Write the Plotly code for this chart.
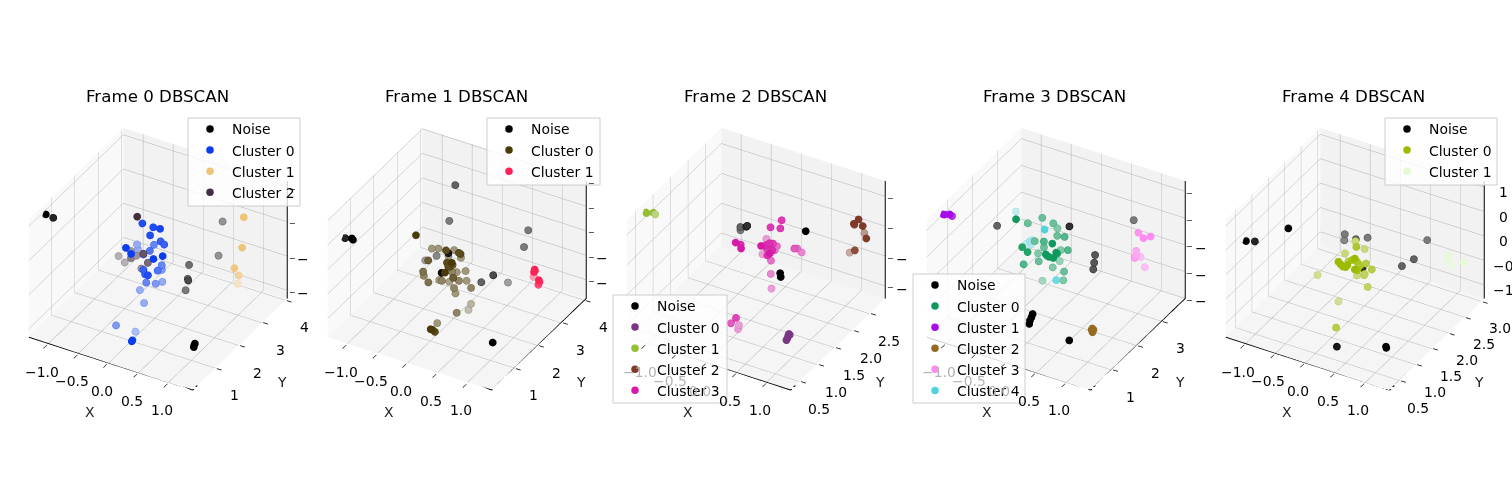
import plotly.graph_objects as go

W, H = 1512, 500
TITLES = ["Frame 0 DBSCAN", "Frame 1 DBSCAN", "Frame 2 DBSCAN", "Frame 3 DBSCAN", "Frame 4 DBSCAN"]
X_RANGE = [-1.33, 1.40]
Y_RANGES = [[0.03, 4.08], [0.03, 4.08], [0.25, 2.95], [0.17, 3.94], [0.2, 3.09]]
Z_RANGES = [[-1.12, 0.6], [-1.38, 1.02], [-1.21, 0.76], [-1.5, 0.7], [-1.28, 1.13]]
X_TICKS = [-1, -0.5, 0, 0.5, 1]
X_LABELS = ["−1.0", "−0.5", "0.0", "0.5", "1.0"]
Y_TICKS = [[1, 2, 3, 4], [1, 2, 3, 4], [0.5, 1, 1.5, 2, 2.5], [1, 2, 3], [0.5, 1, 1.5, 2, 2.5, 3]]
Y_LABELS = [["1", "2", "3", "4"], ["1", "2", "3", "4"], ["0.5", "1.0", "1.5", "2.0", "2.5"], ["1", "2", "3"], ["0.5", "1.0", "1.5", "2.0", "2.5", "3.0"]]
Z_TICKS = [[-1, -0.5, 0, 0.5], [-1, -0.5, 0, 0.5, 1], [-1, -0.5, 0, 0.5], [-1.5, -1, -0.5, 0, 0.5], [-1, -0.5, 0, 0.5, 1]]
# only what the neighbouring panel and the page edge leave visible in the reference
Z_LABELS = [["−", "−", "", ""], ["−", "−", "", "", ""], ["−", "−", "", ""], ["−", "−", "−", "", ""], ["−1", "−0", "0", "0", "1"]]
LEGEND_BOX = [(188, 118, 300, 206), (487, 118, 600, 185), (613, 295, 727, 403), (913, 274, 1025, 403), (1385, 118, 1497, 185)]

# Frame 0
F0_NOISE_X = [-1.30, -1.27, 1.0, 1.02, 0.99, 0.39, 0.43, 0.52, 0.375, 0.40, 0.41]
F0_NOISE_Y = [0.68, 0.92, 1.12, 1.1, 1.13, 2.47, 2.31, 2.10, 2.36, 3.88, 3.68]
F0_NOISE_Z = [0.47, 0.35, -0.94, -0.9, -0.97, -0.38, -0.52, -0.45, -0.72, -0.21, -0.64]
F0_NOISE_A = [1, .85, 1, 1, 1, .55, .55, .7, .5, .4, .4]
F0_C0_X = [-.26, -.11, .005, -.115, -.03, .03, -.21, -.56, -.30, -.21, -.53, -.235, -.17, .195, .09, -.03, -.08, .01, -.125, -.09, .02, -.09, -.10, -.155, -.34, -.235, -.35, -.01, .07, .065]
F0_C0_Y = [2.14, 2.22, 2.22, 2.10, 2.33, 2.33, 2.51, 2.68, 1.54, 1.53, 2.64, 2.12, 2.23, 1.84, 1.715, 2.38, 2.51, 2.10, 1.84, 1.82, 1.66, 2.56, 2.30, 2.035, 2.24, 2.15, 1.245, 1.2, .84, .88]
F0_C0_Z = [.15, .11, .12, .03, -.11, -.14, -.27, -.42, -.02, -.08, -.47, -.29, -.255, -.10, -.13, -.475, -.60, -.45, -.39, -.44, -.37, -.795, -.74, -.65, -.88, -1.01, -1.07, -1.05, -1.05, -1.05]
F0_C0_A = [.9, .9, .95, .9, .8, .8, .6, .4, 1, 1, .4, .7, .7, 1, 1, .6, .5, .7, .8, .8, .9, .4, .5, .6, .4, .4, .5, .3, 1, .9]
F0_C1_X = [.83, .805, .71, .715, .65]
F0_C1_Y = [3.68, 3.675, 3.59, 3.76, 3.88]
F0_C1_Z = [.04, -.41, -.71, -.87, -1.05]
F0_C1_A = [1, 1, .9, .7, .35]
F0_C2_X = [-.155, -.78, -.71, -.45, -.39, -.13, -.09, -.29, -.50]
F0_C2_Y = [1.65, 2.46, 2.54, 2.14, 2.22, 1.85, 1.935, 2.175, 2.26]
F0_C2_Z = [.44, -.58, -.68, -.41, -.385, -.16, -.31, -.53, -.36]
F0_C2_A = [1, .35, .35, .6, .5, .8, .7, .5, .5]

# Frame 1
F1_NOISE_X = [-1.25, -1.30, -1.25, -.31, -.41, -.78, -.89, -.03, .48, .25, .41, .59, .52, 1.0, -.19]
F1_NOISE_Y = [.85, .69, .90, 2.865, 2.865, 3.27, 3.07, 1.85, 2.46, 2.54, 3.27, 3.675, 3.675, 1.1, 1.97]
F1_NOISE_Z = [.29, .35, .24, .82, .05, -.996, -1.04, .01, -.52, -.79, -1.07, -.12, -.49, -1.06, -.51]
F1_NOISE_A = [1, .85, 1, .6, .5, .45, .35, .9, .7, .6, .35, .5, .5, 1, .95]
F1_C0_X = [-.35, -.34, -.26, .04, -.055, .21, .235, -.195, .06, -.10, .10, .21, .15, .13, .13, -.26, -.28, -.15, -.12, -.035, -.01, .19, .18, .225, .175, .065, .06, .165, .15, .135, .36, .28, .30, .27, -.06, -.01, .02, .045]
F1_C0_Y = [1.285, 1.94, 2.01, 1.57, 2.16, 1.68, 1.69, 1.41, 2.155, 2.035, 1.455, 1.38, 1.44, 1.62, 1.43, 1.36, 1.44, 1.30, 1.69, 1.58, 1.84, 1.49, 1.76, 1.975, 2.06, 1.96, 1.78, 1.20, 1.63, 1.73, 1.82, 1.41, 1.97, 1.94, 1.45, 1.04, 1.04, 1.08]
F1_C0_Z = [.51, -.06, -.06, .225, -.08, .19, .17, 0, -.19, -.165, .05, .125, -.01, -.06, .005, -.23, -.36, -.38, -.50, -.43, -.56, -.24, -.43, -.51, -.37, -.39, -.31, -.01, -.53, -.69, -.53, -.88, -.95, -1.07, -1.245, -1.16, -1.16, -1.21]
F1_C0_A = [1, .5, .5, .9, .5, .9, .9, .8, .5, .5, .9, 1, .9, .8, .9, .7, .6, .7, .5, .6, .45, .8, .6, .5, .5, .5, .6, 1, .6, .5, .6, .6, .35, .3, .5, 1, 1, .9]
F1_C1_X = [.73, .72, .63, .80, .81, .775, .735]
F1_C1_Y = [3.59, 3.59, 3.8, 3.59, 3.59, 3.635, 3.59]
F1_C1_Z = [-.825, -.88, -1.11, -1.015, -1.05, -1.14, -.85]
F1_C1_A = [1, 1, .4, 1, .9, .8, 1]

# Frame 2
F2_NOISE_X = [-.27, -.285, -.54, -.46, 1.02, .83, .84]
F2_NOISE_Y = [1.87, 1.87, 2.14, 2.0, 1.33, .925, .925]
F2_NOISE_Z = [.08, .06, -.235, -.075, .715, .18, .12]
F2_NOISE_A = [.8, .75, .5, .6, 1, 1, 1]
F2_C0_X = [.99, .99, .99, .99, .99]
F2_C0_Y = [.9, .88, .86, .83, .925]
F2_C0_Z = [-.77, -.79, -.82, -.835, -.8]
F2_C0_A = [1, 1, 1, 1, .95]
F2_C1_X = [-1.30, -1.30, -1.25, -1.19]
F2_C1_Y = [.745, .76, .87, .82]
F2_C1_Z = [.61, .59, .55, .57]
F2_C1_A = [1, 1, 1, .6]
F2_C2_X = [1.27, 1.19, 1.2, 1.26, 1.18, 1.32, 1.16, .885]
F2_C2_Y = [2.41, 2.41, 2.41, 2.545, 2.73, 2.545, 2.49, 2.815]
F2_C2_Z = [.38, .28, .27, .19, -.06, 0, -.22, -.53]
F2_C2_A = [1, 1, .9, 1, .5, 1, .9, .4]
F2_C3_X = [.35, .37, .24, -.06, -.04, .03, .015, .27, .27, .32, .31, .28, .255, .38, .025, .41, .34, .55, .54, .56, .26, .26, .28, .15, .06, .10, .085, .265, .285]
F2_C3_Y = [1.79, 1.72, 1.66, 1.18, 1.29, 1.18, 1.93, 1.34, 1.45, 1.5, 1.61, 1.775, 1.53, 1.47, 1.8, 1.35, 1.4, 1.81, 1.91, 2.0, 1.64, 1.635, 1.62, .83, .84, 1.0, 1.0, 1.735, 1.465]
F2_C3_Z = [.42, .33, .34, .26, .17, .19, -.08, .22, .16, .19, .12, -.03, .065, .11, -.26, .135, .05, 0, -.06, -.17, -.20, -.42, -.65, -.735, -.86, -.97, -1.04, -.08, .17]
F2_C3_A = [.85, .85, .85, 1, .9, 1, .4, 1, .9, .9, .8, .6, .8, .9, .4, 1, .9, .7, .6, .5, .6, .5, .4, .8, .7, .4, .4, .6, .9]

# Frame 3
F3_NOISE_X = [-.87, .18, .29, .275, .26, .62, -.04, -.06, -.085, -.065, .8]
F3_NOISE_Y = [1.87, 2.24, 3.0, 3.0, 3.0, 3.75, 1.3, 1.3, 1.3, 1.225, .75]
F3_NOISE_Z = [-.02, .18, -.66, -.81, -.94, -.23, -1.11, -1.18, -1.25, -1.27, -1.05]
F3_NOISE_A = [.6, .8, .65, .65, .65, .5, 1, 1, 1, 1, 1]
F3_C0_X = [-.40, -.27, -.43, -.11, -.09, .13, -.01, -.27, -.11, .15, -.26, -.17, -.13, -.23, .04, .225, .235, .115, .165, .22, .205, -.27, -.14, .01, .22, -.14, .195, .02, .09]
F3_C0_Y = [1.5, 2.235, 2.04, 2.29, 2.41, 2.165, 2.21, 1.935, 1.915, 1.63, 1.41, 1.41, 1.965, 1.97, 2.23, 2.07, 1.58, 1.455, 1.46, 1.5, 1.69, 1.49, 1.78, 1.98, 1.93, 1.93, 1.96, 2.235, 1.57]
F3_C0_Z = [.44, .18, .11, .11, -.03, 0, -.05, -.12, -.06, .125, .01, -.05, -.2, -.35, -.31, -.17, .01, -.01, -.04, -.06, -.07, -.35, -.38, -.53, -.51, -.81, -.695, -.525, -.10]
F3_C0_A = [1, .6, .6, .6, .5, .7, .6, .6, .7, 1, .9, .9, .6, .5, .5, .7, 1, 1, 1, 1, .9, .7, .6, .5, .6, .35, .5, .4, .9]
F3_C1_X = [-1.30, -1.30, -1.25, -1.22]
F3_C1_Y = [.76, .81, .89, .91]
F3_C1_Z = [.54, .515, .50, .47]
F3_C1_A = [1, 1, 1, .8]
F3_C2_X = [1.0, 1.0, 1.0, 1.0, 1.02]
F3_C2_Y = [1.19, 1.18, 1.2, 1.16, 1.19]
F3_C2_Z = [-.955, -.985, -1.03, -.965, -.97]
F3_C2_A = [1, 1, 1, 1, 1]
F3_C3_X = [.855, .97, 1.09, .77, .78, .76, .77, .835]
F3_C3_Y = [3.375, 3.3, 3.3, 3.49, 3.64, 3.45, 3.49, 3.68]
F3_C3_Z = [-.21, -.235, -.16, -.63, -.81, -.75, -.71, -1.0]
F3_C3_A = [.9, 1, 1, .7, .5, .8, .7, .5]
F3_C4_X = [-.79, 0, -.62, -.48, -.47, -.49, .115]
F3_C4_Y = [2.43, 1.68, 2.43, 2.24, 2.32, 2.32, 1.87]
F3_C4_Z = [.02, .31, -.52, -.34, -.35, -.435, -.68]
F3_C4_A = [.3, 1, .3, .5, .4, .4, .8]

# Frame 4
F4_NOISE_X = [-1.30, -1.19, -.84, -.45, -.49, -.19, -.07, .575, .51, .42, .19, .285, 1.0, 1.0]
F4_NOISE_Y = [.76, .83, 1.21, 2.22, 2.28, 2.08, 2.22, 2.86, 2.57, 2.37, 1.59, .63, .82, .83]
F4_NOISE_Z = [.34, .33, .49, -.13, -.31, -.04, -.05, -.26, -.49, -.535, -.155, -1.11, -.95, -.98]
F4_NOISE_A = [1, .85, 1, .5, .45, .6, .5, .5, .6, .6, .8, .9, 1, 1]
F4_C0_X = [-.05, .13, .095, -.13, .255, .065, .10, .14, .175, .04, .18, .20, .16, .27, .30, .285, .25, .365, .11, .195, .34, -.44, -.07, .19, .19, .245]
F4_C0_Y = [1.81, 1.51, 1.825, 1.64, 1.235, 1.08, 1.08, 1.08, 1.1, 1.43, 1.29, 1.405, 1.58, 1.55, 1.15, 1.255, 1.545, 1.55, 1.57, 1.625, 1.47, 1.37, 1.33, .78, 1.125, 1.38]
F4_C0_Z = [.15, .30, .04, -.02, .29, .25, .21, .18, .17, .015, .195, .09, -.105, -.01, .14, .05, -.23, -.095, -.33, -.33, -.41, -.41, -.78, -.855, .20, .025]
F4_C0_A = [.5, .8, .5, .5, 1, 1, 1, 1, 1, .7, .9, .8, .6, .7, 1, .9, .6, .7, .5, .5, .6, .4, .4, .7, 1, .8]
F4_C1_X = [.995, .94, .985, 1.245, .96]
F4_C1_Y = [2.74, 2.8, 2.86, 2.74, 2.8]
F4_C1_Z = [-.325, -.49, -.61, -.375, -.44]
F4_C1_A = [.8, .5, .5, .9, .6]

FRAMES = [
    [("Noise", "#000000", F0_NOISE_X, F0_NOISE_Y, F0_NOISE_Z, F0_NOISE_A),
     ("Cluster 0", "#0a3cf0", F0_C0_X, F0_C0_Y, F0_C0_Z, F0_C0_A),
     ("Cluster 1", "#f0c378", F0_C1_X, F0_C1_Y, F0_C1_Z, F0_C1_A),
     ("Cluster 2", "#422e3e", F0_C2_X, F0_C2_Y, F0_C2_Z, F0_C2_A)],
    [("Noise", "#000000", F1_NOISE_X, F1_NOISE_Y, F1_NOISE_Z, F1_NOISE_A),
     ("Cluster 0", "#4a3a08", F1_C0_X, F1_C0_Y, F1_C0_Z, F1_C0_A),
     ("Cluster 1", "#ff2257", F1_C1_X, F1_C1_Y, F1_C1_Z, F1_C1_A)],
    [("Noise", "#000000", F2_NOISE_X, F2_NOISE_Y, F2_NOISE_Z, F2_NOISE_A),
     ("Cluster 0", "#7b3585", F2_C0_X, F2_C0_Y, F2_C0_Z, F2_C0_A),
     ("Cluster 1", "#94be33", F2_C1_X, F2_C1_Y, F2_C1_Z, F2_C1_A),
     ("Cluster 2", "#7f3a28", F2_C2_X, F2_C2_Y, F2_C2_Z, F2_C2_A),
     ("Cluster 3", "#d71aa6", F2_C3_X, F2_C3_Y, F2_C3_Z, F2_C3_A)],
    [("Noise", "#000000", F3_NOISE_X, F3_NOISE_Y, F3_NOISE_Z, F3_NOISE_A),
     ("Cluster 0", "#0f995c", F3_C0_X, F3_C0_Y, F3_C0_Z, F3_C0_A),
     ("Cluster 1", "#a60be8", F3_C1_X, F3_C1_Y, F3_C1_Z, F3_C1_A),
     ("Cluster 2", "#966a21", F3_C2_X, F3_C2_Y, F3_C2_Z, F3_C2_A),
     ("Cluster 3", "#ff8af0", F3_C3_X, F3_C3_Y, F3_C3_Z, F3_C3_A),
     ("Cluster 4", "#4fd3dc", F3_C4_X, F3_C4_Y, F3_C4_Z, F3_C4_A)],
    [("Noise", "#000000", F4_NOISE_X, F4_NOISE_Y, F4_NOISE_Z, F4_NOISE_A),
     ("Cluster 0", "#9bbb00", F4_C0_X, F4_C0_Y, F4_C0_Z, F4_C0_A),
     ("Cluster 1", "#e6f9d2", F4_C1_X, F4_C1_Y, F4_C1_Z, F4_C1_A)],
]
MUTED_X_LABELS = {2: {"−1.0", "−0.5", "0.0"}, 3: {"−1.0", "−0.5", "0.0"}}


def shade(hexcolor, a):
    # the depth fade, mixed against the pane colour so it stays true on a transparent canvas
    r, g, b = (int(hexcolor[n:n + 2], 16) for n in (1, 3, 5))
    return "rgb({},{},{})".format(*(round(c * a + 245 * (1 - a)) for c in (r, g, b)))


F = dict(family="DejaVu Sans", size=13.9, color="black")
TICK_F = dict(F, size=8)
fig = go.Figure()
layout = {}
ann = []
shapes = []
f = 0.785
k = 2.0
for i, frame in enumerate(FRAMES):
    scene = "scene" if i == 0 else f"scene{i+1}"
    legend = "legend" if i == 0 else f"legend{i+1}"
    cx = 158 + 299.2 * i
    dx = 149
    xmin, xmax = X_RANGE
    ymin, ymax = Y_RANGES[i]
    zmin, zmax = Z_RANGES[i]
    common = dict(showbackground=True, gridcolor="#b0b0b0", gridwidth=1, showline=False, ticks="", zeroline=False,
                  showspikes=False, showticklabels=False, title=dict(text=""))
    scene_ann = []
    lab = dict(showarrow=False, xanchor="center", yanchor="middle", font=F)
    for t, txt in zip(X_TICKS, X_LABELS):
        font = dict(F, color="#b4b4b4") if txt in MUTED_X_LABELS.get(i, ()) else F
        scene_ann.append(dict(lab, x=t, y=ymin, z=zmin, text="−", xshift=-3, yshift=-3, textangle=-44, font=TICK_F))
        scene_ann.append(dict(lab, x=t, y=ymin, z=zmin, text=txt, xshift=-7, yshift=-28, font=font))
    for t, txt in zip(Y_TICKS[i], Y_LABELS[i]):
        scene_ann.append(dict(lab, x=xmax, y=t, z=zmin, text="−", xshift=4, yshift=-1, textangle=18, font=TICK_F))
        scene_ann.append(dict(lab, x=xmax, y=t, z=zmin, text=txt, xshift=19, yshift=-27))
    for t, txt in zip(Z_TICKS[i], Z_LABELS[i]):
        scene_ann.append(dict(lab, x=xmax, y=ymax, z=t, text="−", xshift=5, yshift=-2, font=TICK_F))
        if txt and i < 4:
            scene_ann.append(dict(lab, x=xmax, y=ymax, z=t, text=txt, xshift=16, yshift=-3))
        if txt and i == 4:
            # the last panel's labels stop at the page edge, as in the reference
            ann.append(dict(text=txt, x=(1491 if txt.startswith("−") else 1497) / W, y=1 - (304 - 118 * (t - zmin) / (zmax - zmin)) / H,
                            xref="paper", yref="paper", xanchor="left", yanchor="middle", showarrow=False, font=F))
    scene_ann.append(dict(lab, x=(xmin + xmax) / 2, y=ymin, z=zmin, text="X", xshift=-21, yshift=-48, font=dict(F, color="#222222")))
    scene_ann.append(dict(lab, x=xmax, y=(ymin + ymax) / 2, z=zmin, text="Y", xshift=42, yshift=-38, font=dict(F, color="#222222")))
    layout[scene] = dict(
        xaxis=dict(range=X_RANGE, tickvals=X_TICKS, backgroundcolor="#f9f9f9", **common),
        yaxis=dict(range=Y_RANGES[i], tickvals=Y_TICKS[i], backgroundcolor="#f2f2f2", **common),
        zaxis=dict(range=Z_RANGES[i], tickvals=Z_TICKS[i], backgroundcolor="#f5f5f5", **common),
        aspectmode="manual", aspectratio=dict(x=f, y=f, z=0.75 * f),
        camera=dict(eye=dict(x=0.4145 * k, y=-0.718 * k, z=0.559 * k), center=dict(x=0, y=0, z=0), up=dict(x=0, y=0, z=1),
                    projection=dict(type="orthographic")),
        domain=dict(x=[(cx - dx) / W, (cx + dx) / W], y=[0, 482 / 500]),
        bgcolor="rgba(0,0,0,0)",
        annotations=scene_ann,
    )
    # the three axis lines: left-front and front-right floor edges, then the far right upright
    fig.add_trace(go.Scatter3d(scene=scene, x=[xmin, xmax, xmax, xmax], y=[ymin, ymin, ymax, ymax], z=[zmin, zmin, zmin, zmax],
                               mode="lines", showlegend=False, line=dict(color="black", width=2), hoverinfo="skip"))
    for name, color, xs, ys, zs, alphas in frame:
        fig.add_trace(go.Scatter3d(scene=scene, x=xs, y=ys, z=zs, mode="markers", name=name, showlegend=False,
                                   marker=dict(size=4.2, color=[shade(color, a) for a in alphas],
                                               line=dict(color=[shade(color, min(1, a + 0.2)) for a in alphas], width=1))))
        fig.add_trace(go.Scatter3d(scene=scene, x=[None], y=[None], z=[None], mode="markers", name=name, showlegend=True, legend=legend,
                                   marker=dict(size=7.5, color=color)))
    x0, y0, x1, y1 = LEGEND_BOX[i]
    layout[legend] = dict(x=x0 / W, y=1 - (y0 - 4.5) / H, xanchor="left", yanchor="top", bgcolor="rgba(0,0,0,0)",
                          borderwidth=0, font=F, entrywidth=68, itemwidth=34)
    shapes.append(dict(type="rect", xref="paper", yref="paper", x0=x0 / W, x1=x1 / W, y0=1 - y0 / H, y1=1 - y1 / H,
                       fillcolor="rgba(255,255,255,0.8)", line=dict(color="#cccccc", width=1), layer="above"))
    ann.append(dict(text=TITLES[i], x=(157 + 299.2 * i) / W, y=1 - 97 / H, xref="paper", yref="paper", xanchor="center", yanchor="middle",
                    showarrow=False, font=dict(family="DejaVu Sans", size=16.67, color="black")))
fig.update_layout(width=W, height=H, margin=dict(l=0, r=0, t=0, b=0), annotations=ann, shapes=shapes, paper_bgcolor="white", **layout)
fig.write_html("out.html", config={"displayModeBar": False},
               post_script="document.body.style.margin='0';document.body.style.overflow='hidden';")
